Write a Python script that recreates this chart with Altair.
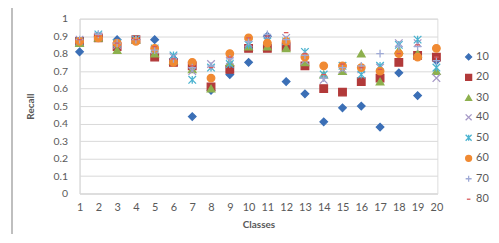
import altair as alt
import pandas as pd

classes = list(range(1, 21))
series_names = ["10", "20", "30", "40", "50", "60", "70", "80"]

s10 = [0.81, 0.90, 0.88, 0.88, 0.88, 0.77, 0.44, 0.59, 0.68, 0.75, 0.90, 0.64, 0.57, 0.41, 0.49, 0.50, 0.38, 0.69, 0.56, 0.76]
s20 = [0.87, 0.89, 0.84, 0.88, 0.78, 0.75, 0.73, 0.61, 0.71, 0.83, 0.83, 0.84, 0.73, 0.60, 0.58, 0.64, 0.66, 0.75, 0.79, 0.78]
s30 = [0.86, 0.89, 0.82, 0.88, 0.80, 0.76, 0.71, 0.60, 0.75, 0.84, 0.84, 0.83, 0.75, 0.68, 0.70, 0.80, 0.64, 0.82, 0.80, 0.70]
s40 = [0.88, 0.90, 0.85, 0.88, 0.82, 0.78, 0.70, 0.74, 0.76, 0.86, 0.88, 0.89, 0.76, 0.65, 0.71, 0.71, 0.72, 0.86, 0.86, 0.66]
s50 = [0.87, 0.91, 0.86, 0.88, 0.83, 0.79, 0.65, 0.72, 0.74, 0.85, 0.87, 0.87, 0.81, 0.68, 0.73, 0.68, 0.73, 0.85, 0.88, 0.72]
s60 = [0.87, 0.89, 0.86, 0.87, 0.83, 0.75, 0.75, 0.66, 0.80, 0.89, 0.86, 0.87, 0.78, 0.73, 0.73, 0.72, 0.70, 0.80, 0.78, 0.83]
s70 = [0.88, 0.91, 0.86, 0.88, 0.82, 0.77, 0.72, 0.73, 0.77, 0.87, 0.91, 0.88, 0.79, 0.66, 0.72, 0.73, 0.80, 0.84, 0.84, 0.76]
s80 = [0.88, 0.90, 0.86, 0.88, 0.84, 0.77, 0.73, 0.72, 0.78, 0.89, 0.90, 0.92, 0.80, 0.68, 0.74, 0.72, 0.71, 0.80, 0.85, 0.78]
all_series = [s10, s20, s30, s40, s50, s60, s70, s80]

stroke_colors = ["#3B6FB6", "#B23A3A", "#8DB04E", "#A598C6", "#4BB3D0", "#F08A33", "#9FAAD6", "#D9595B"]
fill_colors = ["#3B6FB6", "#B23A3A", "#8DB04E", "transparent", "transparent", "#F08A33", "transparent", "transparent"]
shapes = [
    "diamond",
    "square",
    "triangle-up",
    "M-1,-1L1,1M-1,1L1,-1",
    "M-1,-1L1,1M-1,1L1,-1M0,-1L0,1",
    "circle",
    "M-1,0L1,0M0,-1L0,1",
    "M-0.6,0L0.6,0",
]

rows = []
for name, vals in zip(series_names, all_series):
    for c, v in zip(classes, vals):
        rows.append({"Classes": c, "Recall": v, "series": name})
df = pd.DataFrame(rows)

FONT = "Lato"
GREY = "#595959"

legend = alt.Legend(
    title=None, orient="none", legendX=386, legendY=33,
    rowPadding=7.6, labelFontSize=11, labelColor=GREY, labelFont=FONT,
    symbolSize=36, symbolStrokeWidth=1.3, labelOffset=2,
)

points = alt.Chart(df).mark_point(opacity=1, strokeWidth=1.3, size=58).encode(
    x=alt.X("Classes:Q", scale=alt.Scale(domain=[1, 20.05], nice=False, zero=False),
            axis=alt.Axis(values=classes, title="Classes", grid=False, ticks=False,
                          labelFontSize=11, labelColor=GREY, labelFont=FONT, labelPadding=8,
                          titleFontSize=10, titleFont=FONT, titleColor=GREY, titleFontWeight="bold",
                          titlePadding=7, domainColor="#D9D9D9", labelFlush=False)),
    y=alt.Y("Recall:Q", scale=alt.Scale(domain=[0, 1], nice=False),
            axis=alt.Axis(values=[i / 10 for i in range(11)], title="Recall", ticks=False,
                          labelFontSize=10.5, labelColor=GREY, labelFont=FONT, labelPadding=12,
                          titleFontSize=10, titleFont=FONT, titleColor=GREY, titleFontWeight="bold",
                          titlePadding=18, gridColor="#D9D9D9", domainColor="#D9D9D9",
                          labelExpr="datum.value == 0 ? '0' : datum.value == 1 ? '1' : format(datum.value, '.1f')")),
    stroke=alt.Stroke("series:N", scale=alt.Scale(domain=series_names, range=stroke_colors), legend=legend),
    fill=alt.Fill("series:N", scale=alt.Scale(domain=series_names, range=fill_colors), legend=legend),
    shape=alt.Shape("series:N", scale=alt.Scale(domain=series_names, range=shapes), legend=legend),
    order=alt.Order("series:N"),
)

border_left = alt.Chart(df).mark_rule(color="#BFBFBF", strokeWidth=1).encode(
    x=alt.value(-68), y=alt.value(-13), y2=alt.value(216)
)
border_top = alt.Chart(df).mark_rule(color="#BFBFBF", strokeWidth=1).encode(
    x=alt.value(-68), x2=alt.value(414), y=alt.value(-13)
)

chart = alt.layer(border_left, border_top, points).properties(
    width=360, height=176,
    padding={"left": 72, "top": 10, "right": 54, "bottom": 40},
    autosize=alt.AutoSizeParams(type="none"),
).configure_view(stroke=None).configure(background="white")

chart.save("out.html", embed_options={"renderer": "svg", "actions": False})
